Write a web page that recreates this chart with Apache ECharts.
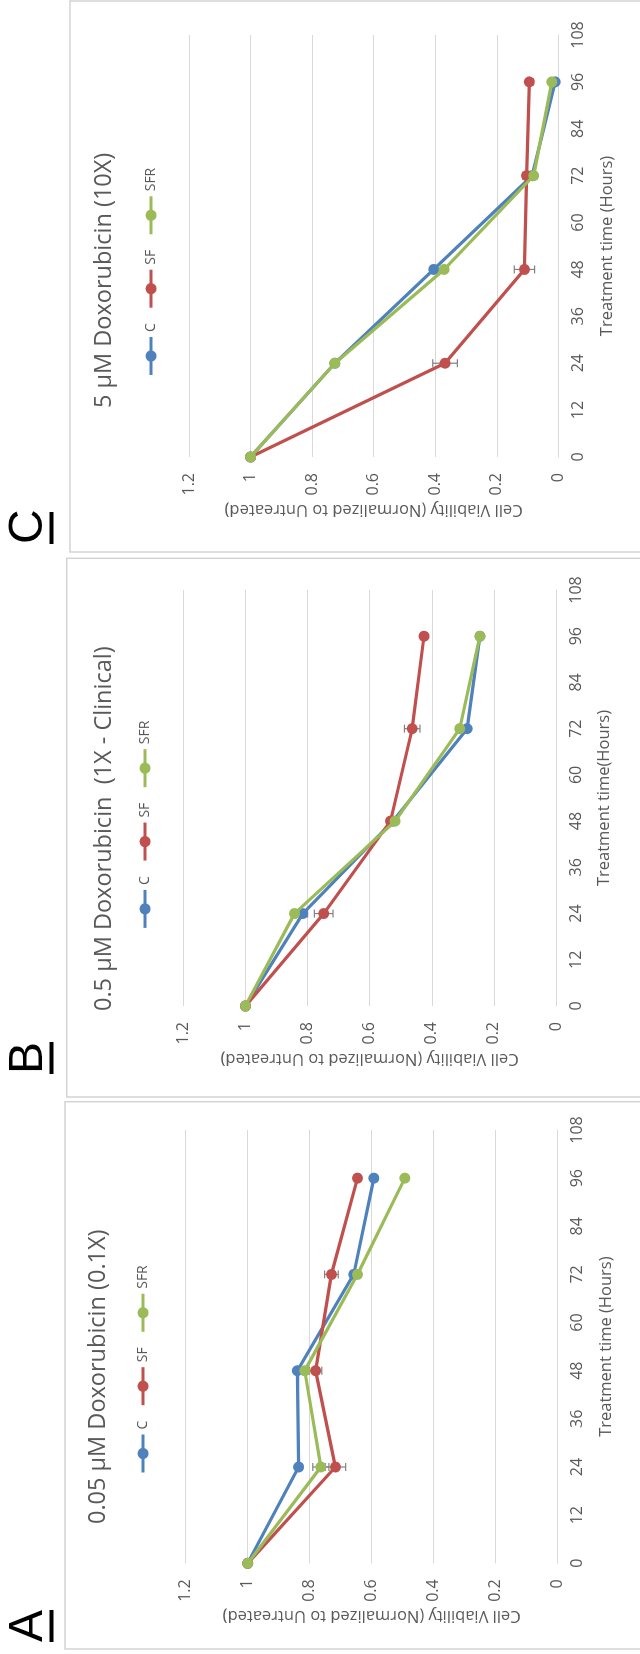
<!DOCTYPE html>
<html>
<head>
<meta charset="utf-8">
<script src="https://cdn.jsdelivr.net/npm/echarts@6/dist/echarts.min.js"></script>
<style>
  html, body { margin: 0; padding: 0; background: #fff; width: 640px; height: 1654px; overflow: hidden; }
  #wrap { position: absolute; left: 0; top: 0; width: 1654px; height: 640px;
          transform-origin: 0 0; transform: translate(0, 1654px) rotate(-90deg); }
  #chart { width: 1654px; height: 640px; }
</style>
</head>
<body>
<div id="wrap"><div id="chart"></div></div>
<script>
// ---------------- DATA ----------------
const times = [0, 24, 48, 72, 96];
const seriesNames = ['C', 'SF', 'SFR'];
const panelLetters = ['A', 'B', 'C'];
const panelTitles = [
  '0.05 µM Doxorubicin (0.1X)',
  '0.5 µM Doxorubicin  (1X - Clinical)',
  '5 µM Doxorubicin (10X)'
];
const xAxisName = ['Treatment time (Hours)', 'Treatment time(Hours)', 'Treatment time (Hours)'];
const yAxisName = 'Cell Viability (Normalized to Untreated)';
const xMin = 0, xMax = 108, xStep = 12;
const yMin = 0, yMax = 1.2, yStep = 0.2;

// Panel A: 0.05 µM
const aC   = [1.00, 0.836, 0.840, 0.658, 0.593];
const aSF  = [1.00, 0.717, 0.781, 0.730, 0.646];
const aSFR = [1.00, 0.764, 0.816, 0.646, 0.493];
const aErrC   = [0, 0.005, 0.005, 0.008, 0.005];
const aErrSF  = [0, 0.033, 0.020, 0.022, 0.005];
const aErrSFR = [0, 0.026, 0.008, 0.008, 0.005];

// Panel B: 0.5 µM
const bC   = [1.00, 0.815, 0.525, 0.286, 0.245];
const bSF  = [1.00, 0.748, 0.533, 0.463, 0.425];
const bSFR = [1.00, 0.842, 0.518, 0.310, 0.245];
const bErrC   = [0, 0.015, 0.005, 0.008, 0.005];
const bErrSF  = [0, 0.030, 0.008, 0.025, 0.005];
const bErrSFR = [0, 0.008, 0.005, 0.005, 0.005];

// Panel C: 5 µM
const cC   = [1.00, 0.726, 0.405, 0.085, 0.010];
const cSF  = [1.00, 0.368, 0.110, 0.103, 0.094];
const cSFR = [1.00, 0.726, 0.371, 0.080, 0.021];
const cErrC   = [0, 0.008, 0.008, 0.005, 0.003];
const cErrSF  = [0, 0.040, 0.033, 0.013, 0.005];
const cErrSFR = [0, 0.008, 0.008, 0.005, 0.003];

const panelValues = [[aC, aSF, aSFR], [bC, bSF, bSFR], [cC, cSF, cSFR]];
const panelErrors = [[aErrC, aErrSF, aErrSFR], [bErrC, bErrSF, bErrSFR], [cErrC, cErrSF, cErrSFR]];

// ---------------- LAYOUT / STYLE (unrotated frame 1654 x 640) ----------------
const colors = ['#4F81BD', '#C0504D', '#9BBB59'];
const textColor = '#595959';
const gridColor = '#d9d9d9';
const FONT = '"Open Sans", "Noto Sans", sans-serif';
const layout = [
  { grid: {left: 90.7, top: 185.7, width: 433.3, height: 372.0}, box: {x: 5,    y: 65,   w: 547.3}, titleX: 130, titleY: 86, legendX: 180,   legendY: 136, letterX: 12,   },
  { grid: {left: 648,  top: 183.3, width: 416.0, height: 372.7}, box: {x: 557,  y: 66.7, w: 538.7}, titleX: 643, titleY: 92, legendX: 724.6, legendY: 138, letterX: 580,  },
  { grid: {left: 1197, top: 189.0, width: 422.0, height: 369.3}, box: {x: 1102, y: 70,   w: 551.0}, titleX: 1246, titleY: 92, legendX: 1277.5, legendY: 144, letterX: 1110, }
];

const grids = [], xAxes = [], yAxes = [], series = [], titles = [], legends = [], graphics = [];

layout.forEach((L, p) => {
  grids.push(Object.assign({ outerBoundsMode: 'none', containLabel: false }, L.grid));
  xAxes.push({
    type: 'value', gridIndex: p, min: xMin, max: xMax, interval: xStep,
    axisLine: { show: true, lineStyle: { color: gridColor, width: 1 } },
    axisTick: { show: false }, splitLine: { show: false },
    axisLabel: { color: textColor, fontSize: 16, fontFamily: FONT, margin: 12 },
    name: xAxisName[p], nameLocation: 'middle', nameGap: 40,
    nameTextStyle: { color: textColor, fontSize: 16.5, fontFamily: FONT }
  });
  yAxes.push({
    type: 'value', gridIndex: p, min: yMin, max: yMax, interval: yStep,
    axisLine: { show: false }, axisTick: { show: false },
    splitLine: { show: true, lineStyle: { color: gridColor, width: 1 } },
    axisLabel: { color: textColor, fontSize: 16, fontFamily: FONT, margin: 16 },
    name: yAxisName, nameLocation: 'middle', nameGap: 44,
    nameTextStyle: { color: textColor, fontSize: 16.5, fontFamily: FONT }
  });

  // error bars
  const errData = [];
  panelValues[p].forEach((vals, s) => {
    vals.forEach((v, j) => {
      const e = panelErrors[p][s][j];
      if (e > 0) errData.push([times[j], v - e, v + e]);
    });
  });
  series.push({
    type: 'custom', name: 'err' + p, xAxisIndex: p, yAxisIndex: p, z: 1, silent: true,
    encode: { x: 0, y: [1, 2] },
    data: errData,
    renderItem: function (params, api) {
      const t = api.value(0);
      const p1 = api.coord([t, api.value(1)]);
      const p2 = api.coord([t, api.value(2)]);
      const cap = 4;
      const st = { stroke: '#808080', lineWidth: 1.2 };
      return { type: 'group', children: [
        { type: 'line', shape: { x1: p1[0], y1: p1[1], x2: p2[0], y2: p2[1] }, style: st },
        { type: 'line', shape: { x1: p1[0] - cap, y1: p1[1], x2: p1[0] + cap, y2: p1[1] }, style: st },
        { type: 'line', shape: { x1: p2[0] - cap, y1: p2[1], x2: p2[0] + cap, y2: p2[1] }, style: st }
      ] };
    }
  });

  panelValues[p].forEach((vals, s) => {
    series.push({
      type: 'line', name: seriesNames[s], xAxisIndex: p, yAxisIndex: p,
      data: times.map((t, j) => [t, vals[j]]),
      symbol: 'circle', symbolSize: 11, z: 2 + s,
      itemStyle: { color: colors[s] },
      lineStyle: { color: colors[s], width: 3.2 }
    });
  });

  titles.push({
    text: panelTitles[p], left: L.titleX, top: L.titleY, padding: 0,
    textStyle: { color: textColor, fontSize: 23.5, fontWeight: 'normal', fontFamily: FONT, lineHeight: 24 }
  });

  legends.push({
    data: seriesNames, left: L.legendX, top: L.legendY, padding: 0, orient: 'horizontal',
    itemWidth: 38, itemHeight: 14, itemGap: 14, selectedMode: false,
    lineStyle: { width: 3 },
    textStyle: { color: textColor, fontSize: 14, fontFamily: FONT }
  });

  graphics.push({
    type: 'rect', silent: true, z: -10,
    shape: { x: L.box.x, y: L.box.y, width: L.box.w, height: 640 },
    style: { fill: 'none', stroke: '#d4d4d4', lineWidth: 1.5 }
  });
  graphics.push({
    type: 'text', silent: true, x: L.letterX, y: 29,
    style: { text: panelLetters[p], font: '48px "Liberation Sans", Arial, sans-serif', fill: '#000', verticalAlign: 'middle', align: 'left' }
  });
  graphics.push({
    type: 'rect', silent: true,
    shape: { x: L.letterX, y: 49.5, width: 32, height: 4 },
    style: { fill: '#000' }
  });
});

const chart = echarts.init(document.getElementById('chart'), null, { renderer: 'canvas' });
chart.setOption({
  animation: false,
  backgroundColor: '#fff',
  title: titles,
  legend: legends,
  grid: grids,
  xAxis: xAxes,
  yAxis: yAxes,
  series: series,
  graphic: graphics
});
</script>
</body>
</html>
